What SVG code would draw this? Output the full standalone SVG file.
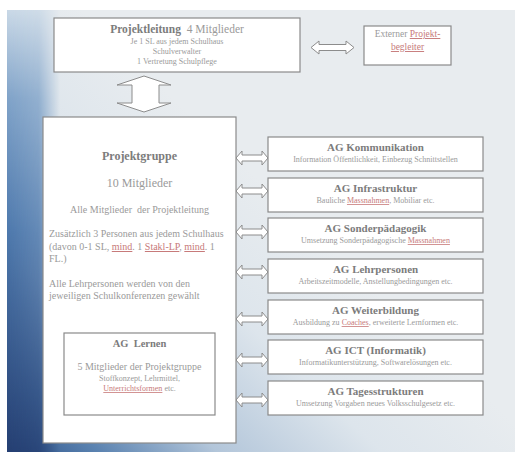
<svg xmlns="http://www.w3.org/2000/svg" xmlns:xlink="http://www.w3.org/1999/xlink" width="515" height="452" viewBox="0 0 515 452" font-family="'Liberation Serif','DejaVu Serif',serif">
<defs>
<linearGradient id="bg" gradientUnits="userSpaceOnUse" x1="0" y1="452" x2="260" y2="180">
<stop offset="0" stop-color="#2a4f86"/>
<stop offset="0.18" stop-color="#5a82b0"/>
<stop offset="0.4" stop-color="#b3c6da"/>
<stop offset="0.7" stop-color="#dde5ec"/>
<stop offset="1" stop-color="#e8ecef"/>
</linearGradient>
<linearGradient id="strip" gradientUnits="userSpaceOnUse" x1="0" y1="10" x2="0" y2="452">
<stop offset="0" stop-color="#c9d8e6"/>
<stop offset="0.2" stop-color="#7fa2c8"/>
<stop offset="0.5" stop-color="#4d78ac"/>
<stop offset="1" stop-color="#253f72"/>
</linearGradient>
<linearGradient id="fadex" gradientUnits="userSpaceOnUse" x1="7" y1="0" x2="60" y2="0">
<stop offset="0" stop-color="#fff" stop-opacity="1"/>
<stop offset="0.6" stop-color="#fff" stop-opacity="0.8"/>
<stop offset="1" stop-color="#fff" stop-opacity="0"/>
</linearGradient>
<mask id="stripmask"><rect x="7" y="10" width="60" height="442" fill="url(#fadex)"/></mask>
<polygon id="harrow" points="0,0 6,-7 6,-3 26,-3 26,-7 32,0 26,7 26,3 6,3 6,7"/>
<style>
.box{fill:#ffffff;stroke:#8a8a8a;stroke-width:1.2}
.arr{fill:#ffffff;stroke:#8c8c8c;stroke-width:1}
text{font-family:"Liberation Serif","DejaVu Serif",serif;fill:#9a9a9a}
.h{font-weight:bold;fill:#7c7c7c}
.m{text-anchor:middle}
.s{font-size:8px}
.red{fill:#c77a7a;text-decoration:underline}
</style>
</defs>
<rect x="0" y="0" width="515" height="452" fill="#ffffff"/>
<rect x="7" y="10" width="508" height="442" fill="url(#bg)"/>
<rect x="7" y="10" width="60" height="442" fill="url(#strip)" mask="url(#stripmask)"/>

<g id="connectors">
<polygon class="arr" points="311,47.5 319,41 319,44.5 346,44.5 346,41 354,47.5 346,54 346,50.5 319,50.5 319,54"/>
<polygon class="arr" points="144,76 171,85 159,85 159,103 171,103 144,112 117,103 132,103 132,85 117,85"/>
<use xlink:href="#harrow" class="arr" x="236" y="158"/>
<use xlink:href="#harrow" class="arr" x="236" y="191"/>
<use xlink:href="#harrow" class="arr" x="236" y="232"/>
<use xlink:href="#harrow" class="arr" x="236" y="272"/>
<use xlink:href="#harrow" class="arr" x="236" y="319"/>
<use xlink:href="#harrow" class="arr" x="236" y="360"/>
<use xlink:href="#harrow" class="arr" x="236" y="400"/>
</g>

<g id="projektleitung">
<rect class="box" x="54" y="18" width="246" height="54"/>
<text class="m" x="177" y="33" font-size="11.5" xml:space="preserve"><tspan class="h">Projektleitung</tspan>  4 Mitglieder</text>
<text class="m s" x="177" y="44">Je 1 SL aus jedem Schulhaus</text>
<text class="m s" x="177" y="54">Schulverwalter</text>
<text class="m s" x="177" y="64">1 Vertretung Schulpflege</text>
</g>

<g id="externer">
<rect class="box" x="364" y="26" width="87" height="39"/>
<text class="m" x="407.5" y="37" font-size="9.5">Externer <tspan class="red">Projekt-</tspan></text>
<text class="m" x="407.5" y="50" font-size="9.5"><tspan class="red">begleiter</tspan></text>
</g>

<g id="projektgruppe">
<rect class="box" x="43" y="117" width="193" height="326"/>
<text class="m h" x="139.5" y="160" font-size="12">Projektgruppe</text>
<text class="m" x="139.5" y="187" font-size="12">10 Mitglieder</text>
<text class="m" x="139.5" y="213" font-size="10" xml:space="preserve">Alle Mitglieder  der Projektleitung</text>
<text x="49" y="237" font-size="10">Zusätzlich 3 Personen aus jedem Schulhaus</text>
<text x="49" y="250" font-size="10">(davon 0-1 SL, <tspan class="red">mind</tspan>. 1 <tspan class="red">Stakl-LP</tspan>, <tspan class="red">mind</tspan>. 1</text>
<text x="49" y="262" font-size="10">FL.)</text>
<text x="49" y="287" font-size="10">Alle Lehrpersonen werden von den</text>
<text x="49" y="299" font-size="10">jeweiligen Schulkonferenzen gewählt</text>
</g>

<g id="ag-lernen">
<rect class="box" x="64" y="333" width="151" height="82"/>
<text class="m h" x="139.5" y="347" font-size="10.5" xml:space="preserve">AG  Lernen</text>
<text class="m" x="139.5" y="370" font-size="10">5 Mitglieder der Projektgruppe</text>
<text class="m s" x="139.5" y="381">Stoffkonzept, Lehrmittel,</text>
<text class="m s" x="139.5" y="391"><tspan class="red">Unterrichtsformen</tspan> etc.</text>
</g>

<g id="ag-kommunikation">
<rect class="box" x="268" y="137" width="215" height="34"/>
<text class="m h" x="375.5" y="151" font-size="11">AG Kommunikation</text>
<text class="m s" x="375.5" y="162">Information Öffentlichkeit, Einbezug Schnittstellen</text>
</g>
<g id="ag-infrastruktur">
<rect class="box" x="268" y="178" width="215" height="34"/>
<text class="m h" x="375.5" y="192" font-size="11">AG Infrastruktur</text>
<text class="m s" x="375.5" y="203">Bauliche <tspan class="red">Massnahmen</tspan>, Mobiliar etc.</text>
</g>
<g id="ag-sonderpaedagogik">
<rect class="box" x="268" y="218" width="215" height="34"/>
<text class="m h" x="375.5" y="232" font-size="11">AG Sonderpädagogik</text>
<text class="m s" x="375.5" y="243">Umsetzung Sonderpädagogische <tspan class="red">Massnahmen</tspan></text>
</g>
<g id="ag-lehrpersonen">
<rect class="box" x="268" y="259" width="215" height="34"/>
<text class="m h" x="375.5" y="273" font-size="11">AG Lehrpersonen</text>
<text class="m s" x="375.5" y="284">Arbeitszeitmodelle, Anstellungbedingungen etc.</text>
</g>
<g id="ag-weiterbildung">
<rect class="box" x="268" y="300" width="215" height="34"/>
<text class="m h" x="375.5" y="314" font-size="11">AG Weiterbildung</text>
<text class="m s" x="375.5" y="325">Ausbildung zu <tspan class="red">Coaches</tspan>, erweiterte Lernformen etc.</text>
</g>
<g id="ag-ict">
<rect class="box" x="268" y="340" width="215" height="34"/>
<text class="m h" x="375.5" y="354" font-size="11">AG ICT (Informatik)</text>
<text class="m s" x="375.5" y="365">Informatikunterstützung, Softwarelösungen etc.</text>
</g>
<g id="ag-tagesstrukturen">
<rect class="box" x="268" y="381" width="215" height="34"/>
<text class="m h" x="375.5" y="395" font-size="11">AG Tagesstrukturen</text>
<text class="m s" x="375.5" y="406">Umsetzung Vorgaben neues Volksschulgesetz etc.</text>
</g>
</svg>
